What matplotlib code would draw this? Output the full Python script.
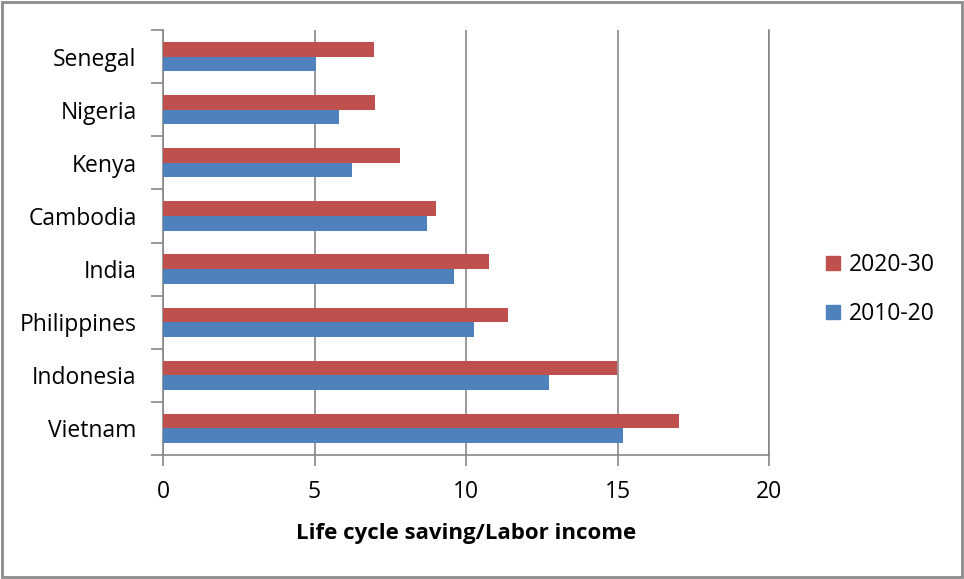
import numpy as np
import matplotlib
matplotlib.use("Agg")
import matplotlib.pyplot as plt
from matplotlib.patches import Rectangle, Patch

plt.rcParams['font.family'] = ['Open Sans', 'DejaVu Sans']

# Countries listed bottom to top
countries = ["Vietnam", "Indonesia", "Philippines", "India",
             "Cambodia", "Kenya", "Nigeria", "Senegal"]
saving_2010_20 = [15.19, 12.73, 10.28, 9.60, 8.71, 6.23, 5.81, 5.05]
saving_2020_30 = [17.02, 14.97, 11.39, 10.76, 9.02, 7.83, 7.00, 6.95]
x_ticks = [0, 5, 10, 15, 20]

RED = "#C0504D"
BLUE = "#4F81BD"
GRID = "#868686"

fig = plt.figure(figsize=(9.64, 5.79), dpi=100)
ax = fig.add_axes([163 / 964, 1 - 455 / 579, (769 - 163) / 964, (455 - 30) / 579])

y = np.arange(len(countries))
h = 0.275
ax.barh(y - h / 2, saving_2010_20, height=h, color=BLUE, label="2010-20", zorder=3)
ax.barh(y + h / 2, saving_2020_30, height=h, color=RED, label="2020-30", zorder=3)

ax.set_xlim(0, 20)
ax.set_ylim(-0.5, len(countries) - 0.5)

ax.set_xticks(x_ticks)
ax.set_xticklabels([str(t) for t in x_ticks])
ax.set_yticks(y)
ax.set_yticklabels(countries)
ax.set_yticks(np.arange(-0.5, len(countries)), minor=True)

ax.xaxis.grid(True, color=GRID, linewidth=1.2, zorder=0)
ax.yaxis.grid(False)

for side in ("left", "bottom", "right"):
    ax.spines[side].set_color(GRID)
    ax.spines[side].set_linewidth(1.2)
ax.spines["top"].set_visible(False)

ax.tick_params(axis="y", which="major", length=0, pad=19, labelsize=16.5, colors="#000000")
ax.tick_params(axis="y", which="minor", length=9, width=1.2, color=GRID)
ax.tick_params(axis="x", which="major", length=8, width=1.2, color=GRID,
               pad=10, labelsize=16.5, labelcolor="#000000")

ax.set_xlabel("Life cycle saving/Labor income", fontsize=16, fontweight="bold", labelpad=14)

handles = [Patch(color=RED), Patch(color=BLUE)]
fig.legend(handles, ["2020-30", "2010-20"], loc="center left",
           bbox_to_anchor=(826 / 964, 1 - 289.5 / 579), frameon=False,
           fontsize=16.5, handlelength=0.6, handleheight=0.6, handletextpad=0.4,
           labelspacing=1.1, borderpad=0, borderaxespad=0)

fig.patches.append(Rectangle((2 / 964, 2 / 579), 960 / 964, 575 / 579,
                             transform=fig.transFigure, fill=False,
                             edgecolor="#8c8c8c", linewidth=2))

fig.savefig("out.png", dpi=100)
